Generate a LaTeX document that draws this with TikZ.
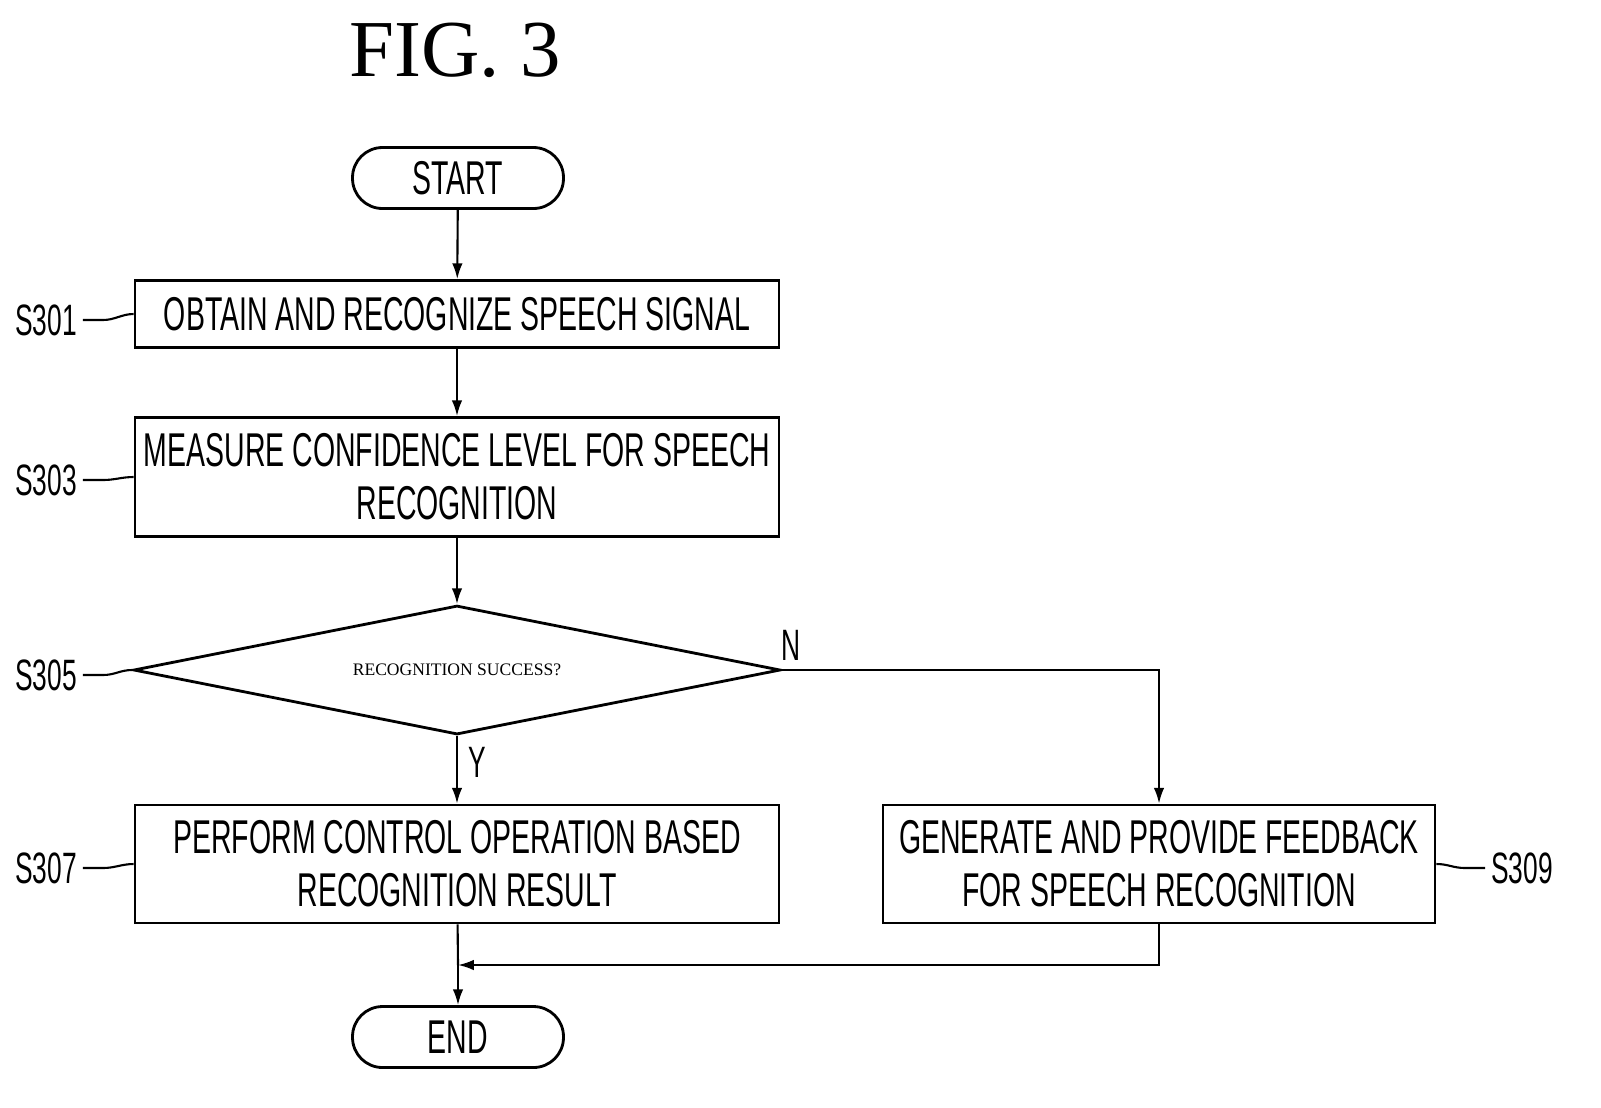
\documentclass[tikz,border=0pt]{standalone}
\usepackage{fontspec}
\setmainfont{Liberation Serif}
\newfontfamily\condfont[FakeStretch=0.6]{Liberation Sans}
\usetikzlibrary{shapes.geometric,arrows.meta}
\tikzset{>={Latex[length=9pt,width=6pt]}}
\tikzset{box/.style = {shape=rectangle,draw,line width=1.6pt,inner sep=0pt,
font=\condfont\fontsize{27}{30}\selectfont,align=center},
term/.style = {shape=rectangle,rounded corners=0.6cm,draw,line width=1.6pt,
minimum width=4.22cm,minimum height=1.22cm,font=\condfont\fontsize{27}{30}\selectfont},
steplabel/.style = {font=\condfont\fontsize{25}{28}\selectfont},
line/.style = {line width=1.2pt}}

\begin{document}
\begin{tikzpicture}[x=0.02cm,y=-0.02cm]
                \useasboundingbox (0,0) rectangle (1601,1107);
                \node at (455,50) {\fontsize{46}{50}\selectfont FIG. 3};

                \node[term] (start) at (458,178) {START};
                \node[box,minimum width=12.88cm,minimum height=1.34cm] (s301) at (457,314) {OBTAIN AND RECOGNIZE SPEECH SIGNAL};
                \node[box,minimum width=12.88cm,minimum height=2.38cm] (s303) at (457,477) {MEASURE CONFIDENCE LEVEL FOR SPEECH\\RECOGNITION};
                \node[box,shape=diamond,aspect=5,minimum width=12.94cm,minimum height=2.58cm,
                  label={center:RECOGNITION SUCCESS?}] (s305) at (457,670) {};
                \node[box,minimum width=12.88cm,minimum height=2.36cm] (s307) at (457,864) {PERFORM CONTROL OPERATION BASED\\RECOGNITION RESULT};
                \node[box,minimum width=11.04cm,minimum height=2.36cm] (s309) at (1159,864) {GENERATE AND PROVIDE FEEDBACK\\FOR SPEECH RECOGNITION};
                \node[term] (end) at (458,1037) {END};

                \node[steplabel] (l301) at (46,320) {S301};
                \node[steplabel] (l303) at (46,480) {S303};
                \node[steplabel] (l305) at (46,675) {S305};
                \node[steplabel] (l307) at (46,868) {S307};
                \node[steplabel] (l309) at (1522,868) {S309};
                \node[steplabel] at (791,645) {N};
                \node[steplabel] at (477,762) {Y};

                \coordinate (merge) at (458,965);

                \draw[line,->] (start) -- (s301);
                \draw[line,->] (s301) -- (s303);
                \draw[line,->] (s303) -- (s305.north);
                \draw[line,->] (s305.south) -- (s307);
                \draw[line,->] (s305.east) -| (s309.north);
                \draw[line] (s307) -- (merge);
                \draw[line,->] (merge) -- (end);
                \draw[line,->] (s309.south) |- (merge);

                \draw[line] (l301.east) -- ++(20,0) .. controls +(12,0) and +(-12,0) .. (s301.west);
                \draw[line] (l303.east) -- ++(20,0) .. controls +(12,0) and +(-12,0) .. (s303.west);
                \draw[line] (l305.east) -- ++(20,0) .. controls +(12,0) and +(-12,0) .. (s305.west);
                \draw[line] (l307.east) -- ++(20,0) .. controls +(12,0) and +(-12,0) .. (s307.west);
                \draw[line] (l309.west) -- ++(-20,0) .. controls +(-12,0) and +(12,0) .. (s309.east);
            \end{tikzpicture}
\end{document}
